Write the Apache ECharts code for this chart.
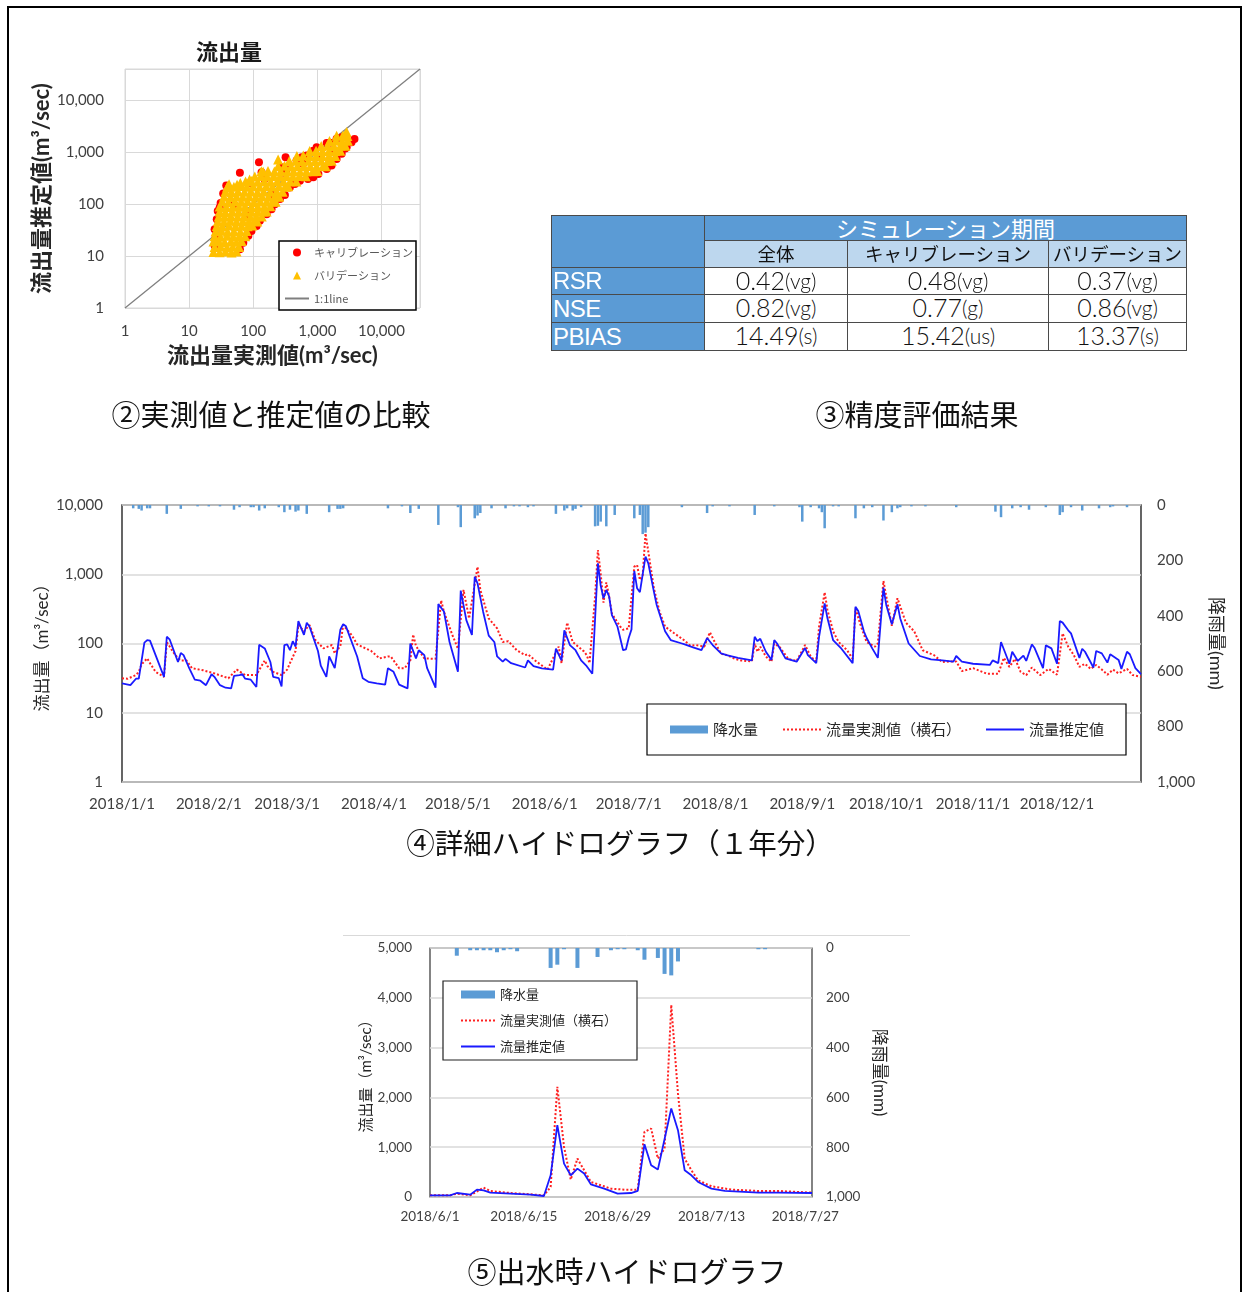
<!DOCTYPE html>
<html>
<head>
<meta charset="utf-8">
<script src="https://cdn.jsdelivr.net/npm/echarts@6/dist/echarts.min.js"></script>
<style>
  html, body { margin: 0; padding: 0; background: #fff; }
  #wrap { position: relative; width: 1247px; height: 1292px; overflow: hidden; }
  #chart { position: absolute; left: 0; top: 0; width: 1247px; height: 1292px; }
  #frame { position: absolute; left: 7px; top: 6px; width: 1235px; height: 1310px;
           border: 2px solid #000; border-bottom: none; box-sizing: border-box; pointer-events: none; }
  #score { position: absolute; left: 551px; top: 215px; width: 637px; height: 137px;
           font-family: 'Noto Sans CJK JP', sans-serif; }
  #score div { position: absolute; box-sizing: border-box; border: 1px solid #4a4a4a; line-height: 1;
               display: flex; align-items: center; justify-content: center; white-space: nowrap; overflow: hidden; }
  #score .blue { background: #5b9bd5; }
  #score .hd1 { background: #5b9bd5; color: #fff; font-size: 22px; padding-bottom: 3px; }
  #score .hd2 { background: #bdd7ee; color: #111; font-size: 18.5px; padding-bottom: 1px; }
  #score .metric { background: #5b9bd5; color: #fff; justify-content: flex-start; padding-left: 1px;
                   font-family: 'Liberation Sans Narrow', 'Liberation Sans', sans-serif; font-size: 24px; letter-spacing: -0.5px; }
  #score .val { background: #fff; color: #111; font-size: 25px; font-weight: 300; padding-bottom: 2px;
                font-family: Lato, 'Noto Sans CJK JP', sans-serif; }
  #score .val span { font-size: 21px; }
</style>
</head>
<body>
<div id="wrap">
  <div id="chart"></div>
  <div id="score"></div>
  <div id="frame"></div>
</div>
<script>
// ---------- 流出量 散布図 (実測値, 推定値) [m3/s] ----------
const calibration = [
  [62,400],[123,640],[320,800],[3800,1800],[2730,1180],
  [25,33],[27,51],[28,74],[30,86],[31,105],[34,160],[38,228],[26,24],[25,16],
  [89,255],[135,410],[277,513],[332,476],[475,690],[569,800],[681,860],[866,1070],[976,1250],
  [1400,1510],[1580,1520],[2000,1810],[2400,1950],
  [62,13.5],[70,18],[84,24.5],[94,30.5],[113,38],[127,48],[162,64],[193,80],[218,100],[261,125],
  [312,150],[373,210],[448,244],[536,283],[715,305],[866,328],[1040,380],[1400,476],[1670,552],
  [2000,743],[2400,930],[2870,1250],[3420,1560],
  [150,300],[300,400],[600,600],[1100,800],[1800,1000],[50,100],[80,60],[200,150]
];
const validation = [
  [24,12],[30,11.8],[37,12.3],[46,11.7],[55,12.2],
  [25,15],[31,15.4],[39,14.8],[48,15.3],[60,15],
  [24,19],[29,19.5],[36,18.6],[45,19.2],[55,18.8],[66,19.4],
  [25,24],[31,23.5],[39,24.6],[49,23.8],[61,24.4],[75,24],
  [26,30],[32,30.8],[40,29.5],[50,30.4],[63,29.8],[79,30.5],
  [27,38],[33,37.2],[42,38.8],[53,37.6],[66,38.4],[82,37.5],[97,38.6],
  [28,47],[35,46],[44,48],[55,46.5],[69,47.6],[86,46.8],[104,47.5],[116,46.5],
  [29,58],[36,57],[45,59],[57,57.5],[72,58.6],[90,57.4],[112,58.5],[136,57.8],
  [30,72],[37,70.5],[47,73],[59,71.5],[74,72.8],[93,71],[117,73.2],[144,71.8],[162,72.5],
  [30,90],[38,88],[48,91.5],[60,89],[75,91],[94,88.5],[118,90.5],[148,89],[185,91],
  [33,112],[41,110],[52,114],[65,111],[82,113.5],[103,110.5],[130,113],[163,111],[200,113],[224,111.5],
  [35,140],[44,137],[55,142],[69,138.5],[87,141.5],[110,138],[138,142],[173,139],[216,141],[254,139],
  [37,175],[46,171],[58,178],[73,173],[92,177],[116,172],[146,176.5],[184,173],[232,177],[288,174],
  [40,220],[50,215],[63,224],[80,217],[100,222],[126,216],[159,223],[200,218],[252,222],[316,217],[352,221],
  [42,242],[56,236],[63,256],[88,298],
  [76,272],[94,278],[118,270],[149,279],[188,271],[237,278],[298,272],[375,277],[470,273],
  [106,342],[132,349],[166,340],[209,348],[263,342],[331,349],[417,341],[525,347],[660,343],
  [134,428],[170,436],[214,425],[269,433],[339,427],[427,434],[537,426],[676,432],[850,428],[1000,433],
  [245,536],[308,546],[388,533],[488,544],[615,535],[774,545],[975,534],[1230,543],[1350,537],
  [365,676],[460,688],[579,672],[729,686],[918,675],[1155,687],[1454,674],[1680,684],
  [480,846],[604,860],[760,842],[957,857],[1205,845],[1517,858],[1910,848],
  [760,1052],[957,1070],[1205,1050],[1517,1068],[1910,1055],[2280,1064],
  [1150,1320],[1448,1345],[1823,1318],[2295,1340],[2750,1325],
  [1550,1650],[1951,1675],[2456,1648],[3000,1670],
  [2000,2070],[2500,2095],[2950,2060],[2870,2450],[2750,2250],
  [245,720],[143,422],[39,210]
];
const oneToOne = [[1, 1], [40000, 40000]];

// ---------- 2018年 日別ハイドログラフ (1/1からの日数, 値) ----------
const monthStartDays = [0, 31, 59, 90, 120, 151, 181, 212, 243, 273, 304, 334];
const monthLabels = ['2018/1/1','2018/2/1','2018/3/1','2018/4/1','2018/5/1','2018/6/1',
                     '2018/7/1','2018/8/1','2018/9/1','2018/10/1','2018/11/1','2018/12/1'];
const rainYear = [
  [4,12],[6,14],[7,20],[9,12],[10,12],[16,32],[21,14],[27,5],[31,5],[35,5],[40,17],[42,8],[46,8],[47,8],
  [49,20],[51,12],[56,8],[58,26],[60,17],[62,24],[63,20],[66,32],[74,26],[77,14],[78,14],[79,12],
  [95,12],[100,5],[103,29],[106,14],[113,72],[120,8],[121,80],[126,48],[127,38],[128,29],[132,12],
  [137,12],[140,5],[142,5],[145,8],[147,5],[155,32],[158,20],[159,12],[161,20],[162,14],[164,8],
  [169,77],[170,75],[171,60],[173,77],[176,36],[183,48],[185,36],[186,105],[187,100],[188,80],
  [200,8],[209,29],[211,5],[217,5],[226,36],[233,5],[242,8],[243,60],[246,8],[249,12],[250,26],
  [251,84],[254,5],[256,5],[262,48],[265,12],[268,8],[272,56],[275,26],[277,12],[278,8],[282,5],
  [287,5],[298,8],[312,24],[314,44],[318,12],[321,8],[324,17],[330,8],[335,36],[336,26],[339,8],
  [343,20],[349,12],[353,8],[354,5],[359,8]
];
const observedYear = [
  [0,31.5],[2,31],[5,35],[6,39],[7,50],[9,61],[10,52],[12,39],[15,33],[16,105],[19,68],[21,57],
  [23,57],[25,44],[29,41],[33,37],[38,31.5],[41,42],[44,35],[46,35],[48,35],[51,57],[52,47],[54,39],
  [57,35],[59,42],[60,52],[62,78],[63,185],[65,150],[67,185],[69,113],[72,85],[75,95],[76,72],
  [78,92],[79,185],[82,133],[84,97],[87,85],[89,78],[92,61],[95,65],[96,65],[99,44],[101,44],
  [103,57],[104,135],[105,92],[106,80],[108,61],[112,60],[114,420],[115,288],[118,133],[120,84],
  [122,593],[124,230],[127,1285],[128,593],[131,230],[134,165],[136,105],[138,108],[141,80],
  [144,68],[145,70],[148,55],[152,42],[156,90],[157,52],[159,200],[161,105],[165,77],[166,68],
  [167,52],[169,480],[170,2240],[171,1000],[172,390],[173,760],[174,480],[175,270],[178,175],
  [179,158],[181,165],[183,1285],[184,1360],[185,826],[186,973],[187,3900],[188,2120],[190,627],
  [192,290],[194,175],[197,143],[201,110],[203,93],[205,95],[208,90],[210,145],[212,100],[214,71],
  [216,68],[219,60],[221,57],[225,55],[226,100],[227,76],[228,90],[230,65],[232,54.6],[233,100],
  [235,88],[238,60],[241,56],[244,95],[246,65],[248,55],[249,175],[251,549],[252,305],[254,150],
  [256,105],[259,80],[261,60],[262,320],[264,175],[266,105],[269,90],[270,100],[272,800],[273,480],
  [275,180],[277,450],[280,200],[283,150],[286,80],[290,68],[293,54],[296,55],[298,55],[300,40],
  [304,44],[309,36.5],[313,36.5],[315,62],[317,46],[319,60],[321,39],[323,35],[325,45],[328,35],
  [331,43],[334,35.5],[336,140],[338,90],[340,68],[342,46],[344,51],[346,43],[348,49],[350,42],
  [352,35.5],[354,42],[356,37],[359,43],[361,35],[364,33]
];
const estimatedYear = [
  [0,26.5],[3,25],[5,31],[6,31],[8,103],[9,112],[10,110],[15,33],[16,125],[17,115],[20,54],[21,73],
  [22,68],[24,44],[26,30],[28,29],[30,25],[32,36],[33,33],[35,25],[37,23],[39,22.5],[40,34],[42,35],
  [43,36],[44,31],[46,30],[48,23.5],[49,96],[51,85],[53,54],[54,33],[56,31.5],[57,24],[58,95],
  [59,97],[60,80],[61,108],[62,90],[63,210],[65,133],[66,200],[67,175],[70,78],[71,48],[73,33],
  [74,65],[76,44],[78,158],[79,190],[80,177],[84,65],[86,31.5],[88,28],[91,26.5],[94,25.5],[95,44],
  [97,39],[99,25.5],[102,22.5],[103,100],[105,61],[106,80],[108,68],[109,44],[112,23],[113,370],
  [115,290],[117,105],[120,39],[121,580],[123,218],[125,133],[126,922],[127,740],[129,288],[131,130],
  [133,105],[134,65],[136,54.6],[137,60],[139,52],[144,45],[145,57],[147,47],[150,43.7],[154,42],
  [155,84],[157,57],[158,155],[160,95],[162,80],[164,57],[166,47],[168,36.5],[170,1440],[171,680],
  [172,450],[173,593],[174,480],[175,257],[177,175],[179,80],[180,82],[181,120],[182,160],[183,1115],
  [184,627],[185,550],[187,1795],[188,1440],[190,560],[191,360],[194,150],[196,112],[200,100],
  [201,97],[204,88],[207,80],[209,120],[211,95],[214,72],[216,68],[220,62],[225,57],[226,125],
  [227,108],[228,117],[230,76],[232,58],[233,112],[234,100],[237,61],[241,54.6],[244,86],[245,68],
  [248,52],[249,125],[251,380],[252,231],[254,112],[257,84],[261,52],[262,340],[263,295],[265,150],
  [266,120],[268,85],[270,62],[272,640],[273,360],[275,190],[277,370],[278,230],[281,100],[285,66],
  [289,59],[293,57],[297,54.6],[298,66],[300,54.6],[304,51],[310,49],[311,57],[313,52],[314,105],
  [317,51],[318,76],[320,56],[322,67],[323,56],[325,97],[326,86],[329,44],[330,94],[332,85],
  [334,51],[335,211],[336,200],[338,155],[339,140],[342,62],[343,84],[344,76],[347,45],[348,78],
  [350,72],[352,53],[353,70],[356,58],[357,43],[359,76],[360,70],[362,44],[364,36]
];

// ---------- 出水時ハイドログラフ (6/1からの日数, 値) ----------
const floodTickDays = [0, 14, 28, 42, 56];
const floodTickLabels = ['2018/6/1', '2018/6/15', '2018/6/29', '2018/7/13', '2018/7/27'];
const floodRain = [
  [4,31],[6,9],[7,9],[8,9],[9,9],[10,17],[11,9],[12,5],[13,13],[18,80],[19,67],[20,5],[22,80],
  [25,36],[27,9],[28,5],[29,5],[31,9],[32,47],[34,40],[35,104],[36,110],[37,54],[49,5],[50,5]
];
const floodObserved = [
  [0,33],[3,33],[4,67],[6,33],[8,188],[9,121],[12,80],[15,54],[17,33],[18,201],[19,2213],[20,1006],
  [21,349],[22,772],[24,302],[27,168],[29,148],[31,148],[32,1308],[33,1375],[34,772],[35,973],
  [36,3857],[37,2080],[38,772],[39,537],[40,335],[42,215],[45,148],[49,121],[52,121],[57,87]
];
const floodEstimated = [
  [0,33],[3,33],[4,80],[6,47],[7,148],[8,134],[9,87],[12,67],[15,47],[17,20],[18,436],[19,1442],
  [20,671],[21,436],[22,570],[23,470],[24,255],[26,168],[28,67],[30,80],[31,121],[32,1060],
  [33,637],[34,550],[36,1778],[37,1342],[38,537],[39,436],[40,302],[42,168],[44,121],[49,87],
  [52,87],[57,80]
];

// ---------- 精度評価表 ----------
const tableTitle = 'シミュレーション期間';
const tableColumns = ['全体', 'キャリブレーション', 'バリデーション'];
const tableMetrics = ['RSR', 'NSE', 'PBIAS'];
const tableScores = [[0.42, 0.48, 0.37], [0.82, 0.77, 0.86], [14.49, 15.42, 13.37]];
const tableRatings = [['vg', 'vg', 'vg'], ['vg', 'g', 'vg'], ['s', 'us', 's']];

// ---------- 図のキャプション ----------
const captions = ['②実測値と推定値の比較', '③精度評価結果', '④詳細ハイドログラフ（１年分）', '⑤出水時ハイドログラフ'];

// ---------- 表の組み立て (セルの境界: 表の左上からの px) ----------
(function buildTable() {
  const colEdge = [0, 153, 296, 497, 635];
  const rowEdge = [0, 25, 52, 79, 107, 135];
  const box = document.getElementById('score');
  const cell = (c0, c1, r0, r1, cls, html) => {
    const d = document.createElement('div');
    d.className = cls;
    d.style.left = colEdge[c0] + 'px';
    d.style.top = rowEdge[r0] + 'px';
    d.style.width = (colEdge[c1] - colEdge[c0] + 1) + 'px';
    d.style.height = (rowEdge[r1] - rowEdge[r0] + 1) + 'px';
    d.innerHTML = html;
    box.appendChild(d);
  };
  cell(0, 1, 0, 2, 'blue', '');
  cell(1, 4, 0, 1, 'hd1', tableTitle);
  tableColumns.forEach((c, j) => cell(j + 1, j + 2, 1, 2, 'hd2', c));
  tableMetrics.forEach((m, i) => {
    cell(0, 1, i + 2, i + 3, 'metric', m);
    tableScores[i].forEach((v, j) =>
      cell(j + 1, j + 2, i + 2, i + 3, 'val', `${v.toFixed(2)}<span>(${tableRatings[i][j]})</span>`));
  });
})();

// ---------- グラフ ----------
const NUM = "Lato, 'Noto Sans CJK JP', sans-serif";
const JP = "'Noto Sans CJK JP', sans-serif";
const LABEL = '#404040';
const GRIDLINE = '#d9d9d9';
const comma = v => Math.round(v).toLocaleString('en-US');
const hideDot = { opacity: 0 };
// 凡例用の三角 (枠の中央に小さく描く)
const smallTriangle = 'path://M0,0M24,8M8,8L12,0L16,8Z';

const chart = echarts.init(document.getElementById('chart'), null, { renderer: 'canvas' });

const option = {
  animation: false,
  backgroundColor: 'transparent',
  grid: [
    { left: 125, top: 69, width: 295, height: 239, show: true, borderColor: GRIDLINE, borderWidth: 1 },
    { left: 122, top: 505, width: 1019, height: 277, show: true, borderColor: '#262626', borderWidth: 1.4 },
    { left: 430, top: 948, width: 382, height: 249, show: true, borderColor: '#333', borderWidth: 1.2 }
  ],
  xAxis: [
    {
      gridIndex: 0, type: 'log', logBase: 10, min: 1, max: 40000,
      axisLine: { show: false }, axisTick: { show: false },
      splitLine: { show: true, lineStyle: { color: GRIDLINE, width: 1 } },
      axisLabel: { formatter: comma, margin: 16, fontSize: 15, color: LABEL, fontFamily: NUM, showMaxLabel: false },
      name: '流出量実測値(m³/sec)', nameLocation: 'middle', nameGap: 37, nameMoveOverlap: false,
      nameTextStyle: { fontSize: 22, fontWeight: 'bold', color: '#262626', fontFamily: NUM }
    },
    {
      gridIndex: 1, type: 'value', min: 0, max: 364,
      axisLine: { show: false }, axisTick: { show: false }, splitLine: { show: false },
      axisLabel: {
        customValues: monthStartDays,
        formatter: v => monthLabels[monthStartDays.indexOf(Math.round(v))] || '',
        margin: 15, fontSize: 15, color: LABEL, fontFamily: NUM
      }
    },
    {
      gridIndex: 2, type: 'value', min: 0, max: 57,
      axisLine: { show: false }, axisTick: { show: false }, splitLine: { show: false },
      axisLabel: {
        customValues: floodTickDays,
        formatter: v => floodTickLabels[floodTickDays.indexOf(Math.round(v))] || '',
        margin: 13, fontSize: 13.5, color: LABEL, fontFamily: NUM
      }
    }
  ],
  yAxis: [
    {
      gridIndex: 0, type: 'log', logBase: 10, min: 1, max: 40000,
      axisLine: { show: false }, axisTick: { show: false },
      splitLine: { show: true, lineStyle: { color: GRIDLINE, width: 1 } },
      axisLabel: { formatter: comma, margin: 21, fontSize: 15, color: LABEL, fontFamily: NUM, showMaxLabel: false },
      name: '流出量推定値(m³/sec)', nameLocation: 'middle', nameRotate: 90, nameGap: 72, nameMoveOverlap: false,
      nameTextStyle: { fontSize: 22, fontWeight: 'bold', color: '#262626', fontFamily: NUM }
    },
    {
      gridIndex: 1, type: 'log', logBase: 10, min: 1, max: 10000,
      axisLine: { show: false }, axisTick: { show: false },
      splitLine: { show: true, lineStyle: { color: GRIDLINE, width: 1.5 } },
      axisLabel: { formatter: comma, margin: 19, fontSize: 15, color: LABEL, fontFamily: NUM },
      name: '流出量（m³/sec）', nameLocation: 'middle', nameRotate: 90, nameGap: 71, nameMoveOverlap: false,
      nameTextStyle: { fontSize: 17, color: '#262626', fontFamily: NUM }
    },
    {
      gridIndex: 1, type: 'value', position: 'right', inverse: true, min: 0, max: 1000, interval: 200,
      axisLine: { show: false }, axisTick: { show: false }, splitLine: { show: false },
      axisLabel: { formatter: comma, margin: 16, fontSize: 15, color: LABEL, fontFamily: NUM },
      name: '降雨量(mm)', nameLocation: 'middle', nameRotate: -90, nameGap: 66,
      nameTextStyle: { fontSize: 18, color: '#262626', fontFamily: NUM }
    },
    {
      gridIndex: 2, type: 'value', min: 0, max: 5000, interval: 1000,
      axisLine: { show: false }, axisTick: { show: false },
      splitLine: { show: true, lineStyle: { color: GRIDLINE, width: 1.5 } },
      axisLabel: { formatter: comma, margin: 18, fontSize: 13.5, color: LABEL, fontFamily: NUM },
      name: '流出量（m³/sec）', nameLocation: 'middle', nameRotate: 90, nameGap: 55,
      nameTextStyle: { fontSize: 15, color: '#262626', fontFamily: NUM }
    },
    {
      gridIndex: 2, type: 'value', position: 'right', inverse: true, min: 0, max: 1000, interval: 200,
      axisLine: { show: false }, axisTick: { show: false }, splitLine: { show: false },
      axisLabel: { formatter: comma, margin: 14, fontSize: 13.5, color: LABEL, fontFamily: NUM },
      name: '降雨量(mm)', nameLocation: 'middle', nameRotate: -90, nameGap: 59,
      nameTextStyle: { fontSize: 17, color: '#262626', fontFamily: NUM }
    }
  ],
  legend: [
    {
      left: 279, top: 241, orient: 'vertical', padding: [6, 3, 6, 5], itemGap: 12,
      itemWidth: 24, itemHeight: 8, backgroundColor: '#fff', borderColor: '#000', borderWidth: 1.5,
      textStyle: { fontSize: 11, color: '#595959', fontFamily: JP },
      data: [
        { name: 'キャリブレーション', icon: 'circle' },
        { name: 'バリデーション', icon: smallTriangle },
        { name: '1:1line', itemStyle: hideDot }
      ],
      selectedMode: false
    },
    {
      left: 647, top: 704, orient: 'horizontal', padding: [18, 22, 18, 23], itemGap: 24,
      itemWidth: 38, itemHeight: 8, backgroundColor: '#fff', borderColor: '#000', borderWidth: 1.2,
      textStyle: { fontSize: 15, color: '#262626', fontFamily: JP },
      data: [
        { name: '降水量', icon: 'rect' },
        { name: '流量実測値（横石）', itemStyle: hideDot },
        { name: '流量推定値', itemStyle: hideDot }
      ],
      selectedMode: false
    },
    {
      left: 443, top: 981, orient: 'vertical', padding: [7, 20, 7, 17], itemGap: 13,
      itemWidth: 34, itemHeight: 8, backgroundColor: '#fff', borderColor: '#222', borderWidth: 1.2,
      textStyle: { fontSize: 13, color: '#262626', fontFamily: JP },
      data: [
        { name: '降水量', icon: 'rect' },
        { name: '流量実測値（横石）', itemStyle: hideDot },
        { name: '流量推定値', itemStyle: hideDot }
      ],
      selectedMode: false
    }
  ],
  graphic: [
    { type: 'text', x: 229, y: 52, style: { text: '流出量', fill: '#1a1a1a', font: `bold 22px ${JP}`, textAlign: 'center', textVerticalAlign: 'middle' } },
    { type: 'text', x: 271, y: 415, style: { text: captions[0], fill: '#111', font: `29px ${JP}`, textAlign: 'center', textVerticalAlign: 'middle' } },
    { type: 'text', x: 917, y: 415, style: { text: captions[1], fill: '#111', font: `29px ${JP}`, textAlign: 'center', textVerticalAlign: 'middle' } },
    { type: 'text', x: 620, y: 843, style: { text: captions[2], fill: '#111', font: `28.5px ${JP}`, textAlign: 'center', textVerticalAlign: 'middle' } },
    { type: 'text', x: 627, y: 1272, style: { text: captions[3], fill: '#111', font: `29px ${JP}`, textAlign: 'center', textVerticalAlign: 'middle' } },
    { type: 'line', shape: { x1: 343, y1: 935.5, x2: 910, y2: 935.5 }, style: { stroke: '#d9d9d9', lineWidth: 1 } }
  ],
  series: [
    {
      name: '1:1line', type: 'line', xAxisIndex: 0, yAxisIndex: 0, data: oneToOne,
      symbol: 'none', lineStyle: { color: '#7f7f7f', width: 1.3 }, itemStyle: { color: '#7f7f7f' }, z: 1
    },
    {
      name: 'キャリブレーション', type: 'scatter', xAxisIndex: 0, yAxisIndex: 0, data: calibration,
      symbol: 'circle', symbolSize: 8, itemStyle: { color: '#ff0000', opacity: 1 }, z: 2
    },
    {
      name: 'バリデーション', type: 'scatter', xAxisIndex: 0, yAxisIndex: 0, data: validation,
      symbol: 'triangle', symbolSize: 10, itemStyle: { color: '#ffc000', opacity: 1 }, z: 3
    },
    {
      name: '降水量', type: 'bar', xAxisIndex: 1, yAxisIndex: 2, data: rainYear,
      barWidth: 2.5, itemStyle: { color: '#5b9bd5' }
    },
    {
      name: '流量実測値（横石）', type: 'line', xAxisIndex: 1, yAxisIndex: 1, data: observedYear,
      symbol: 'none', lineStyle: { color: '#ff2020', width: 2, type: 'dotted' }, itemStyle: { color: '#ff2020' }
    },
    {
      name: '流量推定値', type: 'line', xAxisIndex: 1, yAxisIndex: 1, data: estimatedYear,
      symbol: 'none', lineStyle: { color: '#1a1aff', width: 1.8 }, itemStyle: { color: '#1a1aff' }
    },
    {
      name: '降水量', type: 'bar', xAxisIndex: 2, yAxisIndex: 4, data: floodRain,
      barWidth: 4, itemStyle: { color: '#5b9bd5' }
    },
    {
      name: '流量実測値（横石）', type: 'line', xAxisIndex: 2, yAxisIndex: 3, data: floodObserved,
      symbol: 'none', lineStyle: { color: '#ff2020', width: 2, type: 'dotted' }, itemStyle: { color: '#ff2020' }
    },
    {
      name: '流量推定値', type: 'line', xAxisIndex: 2, yAxisIndex: 3, data: floodEstimated,
      symbol: 'none', lineStyle: { color: '#1a1aff', width: 1.8 }, itemStyle: { color: '#1a1aff' }
    }
  ]
};
chart.setOption(option);
</script>
</body>
</html>
